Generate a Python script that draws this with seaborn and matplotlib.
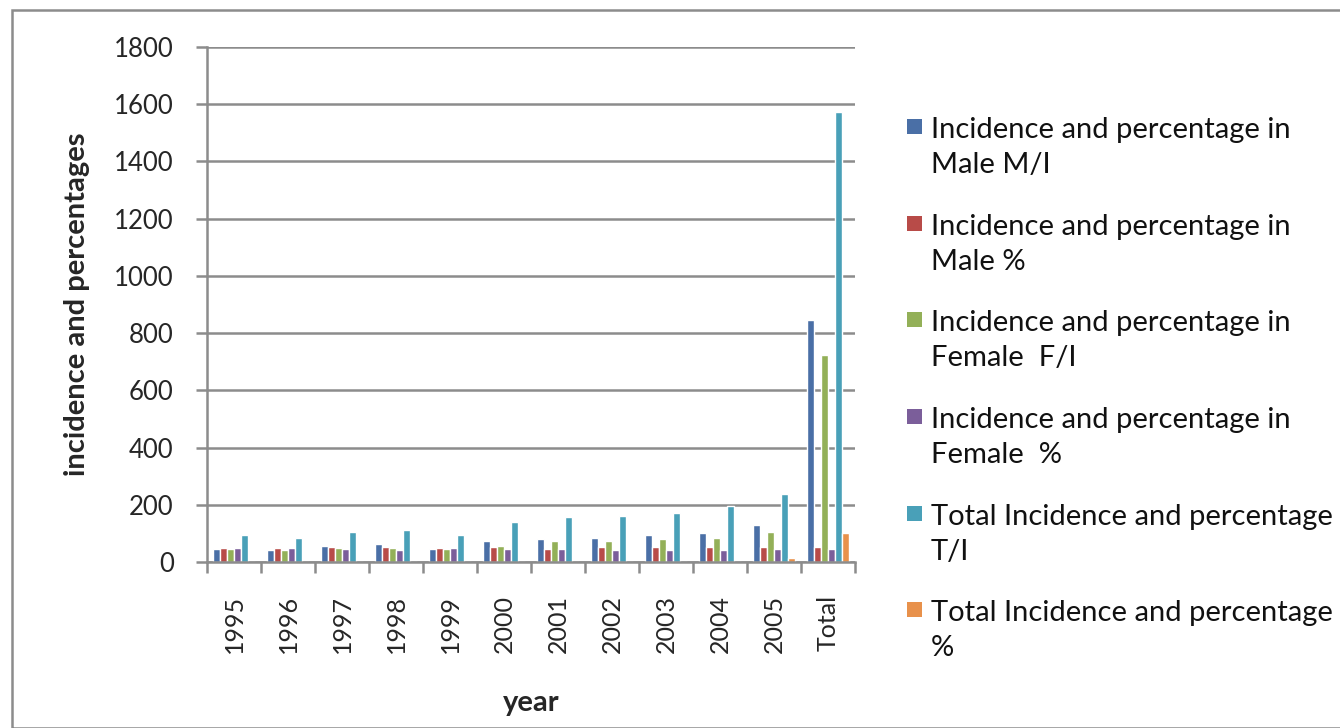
import numpy as np
import pandas as pd
import matplotlib
matplotlib.use("Agg")
import matplotlib.pyplot as plt
from matplotlib.patches import Rectangle
import seaborn as sns

# categories on the x axis
years = ["1995", "1996", "1997", "1998", "1999", "2000", "2001",
         "2002", "2003", "2004", "2005", "Total"]

# series values
male_mi = [47, 42, 57, 63, 47, 74, 79, 84, 96, 101, 130, 845]
male_pct = [50, 50, 53, 53, 50, 53, 47, 53, 53, 53, 54, 54]
female_fi = [47, 42, 49, 48, 47, 57, 72, 72, 79, 84, 106, 722]
female_pct = [50, 50, 45, 43, 50, 44, 47, 43, 43, 43, 44, 46]
total_ti = [96, 84, 106, 111, 96, 139, 156, 161, 172, 195, 238, 1573]
total_pct = [0, 0, 0, 0, 0, 0, 0, 0, 0, 0, 13, 100]

series_names = [
    "Incidence and percentage in\nMale M/I",
    "Incidence and percentage in\nMale %",
    "Incidence and percentage in\nFemale  F/I",
    "Incidence and percentage in\nFemale  %",
    "Total Incidence and percentage\nT/I",
    "Total Incidence and percentage\n%",
]
colors = ["#4A6FA6", "#B84B48", "#93B058", "#7B5E9A", "#49A0B8", "#E8914B"]

rows = []
for name, vals in zip(series_names,
                      [male_mi, male_pct, female_fi, female_pct, total_ti, total_pct]):
    for y, v in zip(years, vals):
        rows.append({"year": y, "series": name, "value": v})
df = pd.DataFrame(rows)

sns.set_theme(style="white")
plt.rcParams["font.family"] = ["Lato", "DejaVu Sans"]

W, H = 1340, 728
fig = plt.figure(figsize=(W / 100, H / 100), dpi=100)
ax = fig.add_axes([207 / W, 1 - 562 / H, 648 / W, 515 / H])

sns.barplot(data=df, x="year", y="value", hue="series", order=years,
            hue_order=series_names, palette=colors, width=0.78,
            saturation=1, ax=ax, legend=False)

grey = "#8c8c8c"
ax.set_ylim(0, 1800)
ax.set_xlim(-0.5, len(years) - 0.5)
ax.set_yticks(np.arange(0, 1801, 200))
ax.yaxis.grid(True, color=grey, linewidth=1.8)
ax.set_axisbelow(True)
ax.tick_params(axis="y", labelsize=18.5, length=8, width=1.8, color=grey,
               left=True, pad=16)
ax.set_xticks(np.arange(len(years)))
ax.set_xticklabels(years, rotation=90, fontsize=18)
ax.set_xticks(np.arange(-0.5, len(years)), minor=True)
ax.tick_params(axis="x", which="major", length=0, pad=24)
ax.tick_params(axis="x", which="minor", length=8, width=1.8, color=grey,
               bottom=True)
for side in ["top", "right"]:
    ax.spines[side].set_visible(False)
for side in ["left", "bottom"]:
    ax.spines[side].set_color(grey)
    ax.spines[side].set_linewidth(1.8)

ax.set_xlabel("year", fontsize=21, fontweight="bold", labelpad=26)
ax.set_ylabel("incidence and percentages", fontsize=21, fontweight="bold",
              labelpad=17)

# legend drawn by hand so the swatch sits beside the first line
entry_tops = [117, 214, 310, 407, 504, 600]
for name, col, top in zip(series_names, colors, entry_tops):
    fig.patches.append(Rectangle((907 / W, 1 - (top + 17) / H), 15 / W, 15 / H,
                                 transform=fig.transFigure, facecolor=col,
                                 edgecolor="none"))
    fig.text(931 / W, 1 - top / H, name, fontsize=21, va="top", ha="left",
             linespacing=1.45, color="#111111")

fig.patches.append(Rectangle((12 / W, 0), 1.0, 1 - 10 / H,
                             transform=fig.transFigure, fill=False,
                             edgecolor=grey, linewidth=1.8))

plt.savefig("out.png", dpi=100)
